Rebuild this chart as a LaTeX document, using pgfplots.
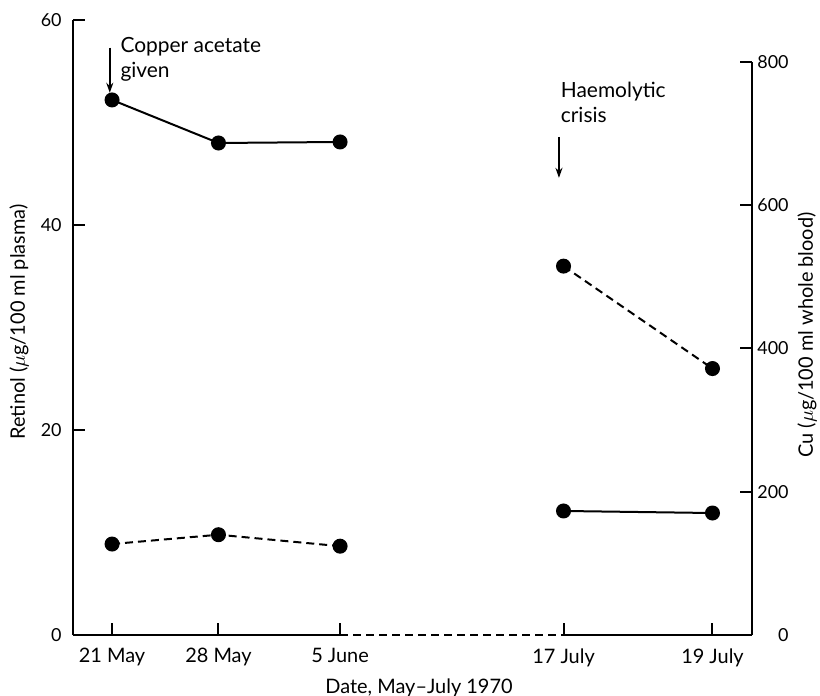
\documentclass[border=0pt]{standalone}
\usepackage{fontspec}
\setmainfont{Lato}
\usepackage{pgfplots}
\pgfplotsset{compat=1.18}
\usetikzlibrary{arrows.meta}

% positions on a broken date scale: 21 May = 0
\pgfplotsset{
  chart/.style={
    scale only axis, width=339.5bp, at={(36.5bp,30.5bp)}, anchor=south west,
    xmin=-2.57, xmax=42.1, clip=false,
    tick align=inside, major tick length=6bp,
    every tick/.style={black, line width=1bp},
    axis line style={line width=1bp},
    yticklabel style={font=\fontsize{9}{11}\selectfont},
    xticklabel style={font=\fontsize{10}{12}\selectfont},
    /pgf/number format/assume math mode=true,
  },
  dot/.style={black, line width=1bp, mark=*, mark size=3.25bp, mark options={solid}},
}

\begin{document}
\begin{tikzpicture}[x=1bp,y=1bp]
\path[use as bounding box] (0,0) rectangle (410,348);

\begin{axis}[chart, height=307.5bp,
  ymin=0, ymax=60, ytick={0,20,40,60},
  axis y line*=left, axis x line*=bottom, x axis line style={draw=none},
  xtick={0,7,15,29.7,39.5},
  xticklabels={21 May,28 May,5 June,17 July,19 July},
  xticklabel style={anchor=north, inner sep=0pt, yshift=-6.5bp},
  yticklabel style={anchor=east, inner sep=0pt, xshift=-5.5bp},
]
% retinol
\addplot[dot] coordinates {(0,52.2) (7,48.0) (15,48.1)};
\addplot[dot] coordinates {(29.7,12.1) (39.5,11.9)};
% x axis with the break
\addplot[black, line width=1bp] coordinates {(-2.57,0) (15,0)};
\addplot[black, line width=1bp, dash pattern=on 4bp off 2.5bp] coordinates {(15,0) (29.7,0)};
\addplot[black, line width=1bp] coordinates {(29.7,0) (42.1,0)};

\draw[line width=0.8bp, -{Stealth[length=5bp,width=3.5bp]}] (-0.15,57.3) -- (-0.15,52.9);
\node[anchor=base west, inner sep=0pt, font=\fontsize{10.5}{12}\selectfont] at (0.53,56.8) {Copper acetate};
\node[anchor=base west, inner sep=0pt, font=\fontsize{10.5}{12}\selectfont] at (0.53,54.4) {given};
\draw[line width=0.8bp, -{Stealth[length=5bp,width=3.5bp]}] (29.4,48.6) -- (29.4,44.6);
\node[anchor=base west, inner sep=0pt, font=\fontsize{10.5}{12}\selectfont] at (29.5,52.4) {Haemolytic};
\node[anchor=base west, inner sep=0pt, font=\fontsize{10.5}{12}\selectfont] at (29.5,50.0) {crisis};
\end{axis}

\begin{axis}[chart, height=286.5bp,
  ymin=0, ymax=800, ytick={0,200,400,600,800},
  axis y line*=right, axis x line=none,
  yticklabel style={anchor=east, inner sep=0pt, xshift=18.5bp},
]
% copper
\addplot[dot, dash pattern=on 4bp off 2.5bp] coordinates {(0,127) (7,140) (15,124)};
\addplot[dot, dash pattern=on 4bp off 2.5bp] coordinates {(29.7,515) (39.5,372)};
\end{axis}

\node[rotate=90, font=\fontsize{10}{12}\selectfont] at (9.5,187) {Retinol ($\mu$g/100 ml plasma)};
\node[rotate=90, font=\fontsize{10}{12}\selectfont] at (403.5,180.5) {Cu ($\mu$g/100 ml whole blood)};
\node[anchor=base, font=\fontsize{10}{12}\selectfont] at (209.5,1.5) {Date, May--July 1970};
\end{tikzpicture}
\end{document}
